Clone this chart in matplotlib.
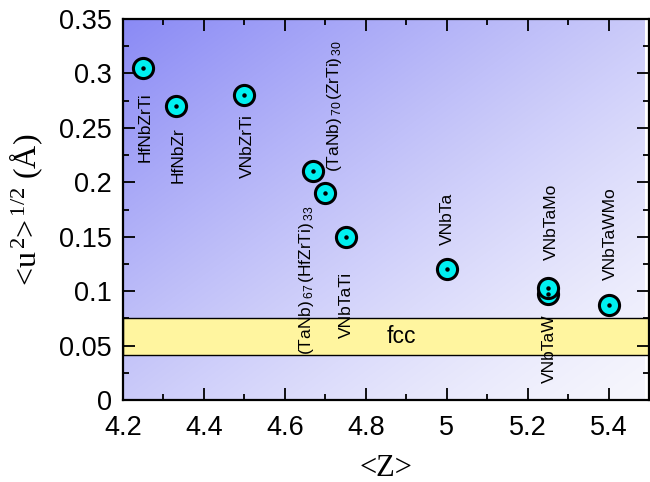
import numpy as np
import matplotlib
matplotlib.use("Agg")
import matplotlib.pyplot as plt

plt.rcParams['font.family'] = ['Liberation Sans', 'DejaVu Sans']
plt.rcParams['mathtext.fontset'] = 'custom'
plt.rcParams['mathtext.rm'] = 'Liberation Serif'
plt.rcParams['mathtext.it'] = 'Liberation Serif:italic'
plt.rcParams['mathtext.sf'] = 'Liberation Sans'
plt.rcParams['mathtext.default'] = 'rm'

# ---- data ----
alloys = ["HfNbZrTi", "HfNbZr", "VNbZrTi",
          r"(TaNb)$\,_{\mathsf{67}}\,$(HfZrTi)$\,_{\mathsf{33}}$",
          r"(TaNb)$\,_{\mathsf{70}}\,$(ZrTi)$\,_{\mathsf{30}}$",
          "VNbTaTi", "VNbTa", "VNbTaW", "VNbTaMo", "VNbTaWMo"]
z_mean = [4.25, 4.33, 4.50, 4.67, 4.70, 4.75, 5.00, 5.25, 5.25, 5.40]
u_rms = [0.305, 0.270, 0.280, 0.210, 0.190, 0.150, 0.120, 0.097, 0.103, 0.087]
# label anchor (baseline x, start y) in data units
label_x = [4.266, 4.347, 4.518, 4.664, 4.733, 4.763, 5.013, 5.265, 5.270, 5.417]
label_y = [0.219, 0.1995, 0.204, 0.0414, 0.2096, 0.057, 0.1425, 0.0156, 0.1287, 0.110]
fcc_band = (0.041, 0.075)
xlim = (4.2, 5.488)
ylim = (0.0, 0.35)

fig = plt.figure(figsize=(6.5, 4.82), dpi=100)
ax = fig.add_axes([123/650, (482-400)/482, (649-123)/650, (400-19)/482])

# background gradient
nx, ny = 200, 200
xs = np.linspace(0, 1, nx)
ys = np.linspace(0, 1, ny)
X, Y = np.meshgrid(xs, ys)
t = 0.5 * (1 - X) + 0.5 * Y
t = np.clip(t, 0, 1) ** 1.3
c0 = np.array([246, 246, 253]) / 255
c1 = np.array([138, 138, 245]) / 255
img = c0[None, None, :] * (1 - t[..., None]) + c1[None, None, :] * t[..., None]
ax.imshow(img, extent=(xlim[0], xlim[1], ylim[0], ylim[1]), origin='lower',
          aspect='auto', zorder=0, interpolation='bilinear')

# fcc band
ax.axhspan(fcc_band[0], fcc_band[1], facecolor='#fff59f', edgecolor='black',
           linewidth=1.0, zorder=1)
ax.text((xlim[0] + xlim[1]) / 2 + 0.045, np.mean(fcc_band), "fcc", fontsize=16.5,
        ha='center', va='center', zorder=2)

# points
ax.plot(z_mean, u_rms, linestyle='none', marker='o', markersize=14.5,
        markerfacecolor='#00f0f0', markeredgecolor='black', markeredgewidth=2.2,
        zorder=3)
ax.plot(z_mean, u_rms, linestyle='none', marker='o', markersize=2.2,
        color='black', zorder=4)

for name, lx, ly in zip(alloys, label_x, label_y):
    ax.text(lx, ly, name, rotation=90, rotation_mode='anchor', ha='left',
            va='baseline', fontsize=12.5, zorder=5)

ax.set_xlim(*xlim)
ax.set_ylim(*ylim)
ax.set_xticks([4.2, 4.4, 4.6, 4.8, 5.0, 5.2, 5.4])
ax.set_xticklabels(["4.2", "4.4", "4.6", "4.8", "5", "5.2", "5.4"])
ax.set_xticks(np.arange(4.3, 5.5, 0.2), minor=True)
ax.set_yticks([0, 0.05, 0.1, 0.15, 0.2, 0.25, 0.3, 0.35])
ax.set_yticklabels(["0", "0.05", "0.1", "0.15", "0.2", "0.25", "0.3", "0.35"])
ax.set_yticks(np.arange(0.025, 0.35, 0.05), minor=True)
ax.tick_params(which='both', direction='in', top=True, right=True, width=1.3)
ax.tick_params(which='major', length=8.5, labelsize=19.5)
ax.tick_params(which='minor', length=4.5)
ax.tick_params(axis='x', which='major', pad=11)
ax.tick_params(axis='y', which='major', pad=8)
for s in ax.spines.values():
    s.set_linewidth(1.6)

serif = ['Liberation Serif', 'DejaVu Serif']
ax.set_xlabel("<Z>", fontsize=22, family=serif, labelpad=9)
ax.set_ylabel(r"<u$^{\,2}$>$^{\,1/2}$ (Å)", fontsize=23, family=serif, labelpad=10)

fig.savefig("out.png", dpi=100)
